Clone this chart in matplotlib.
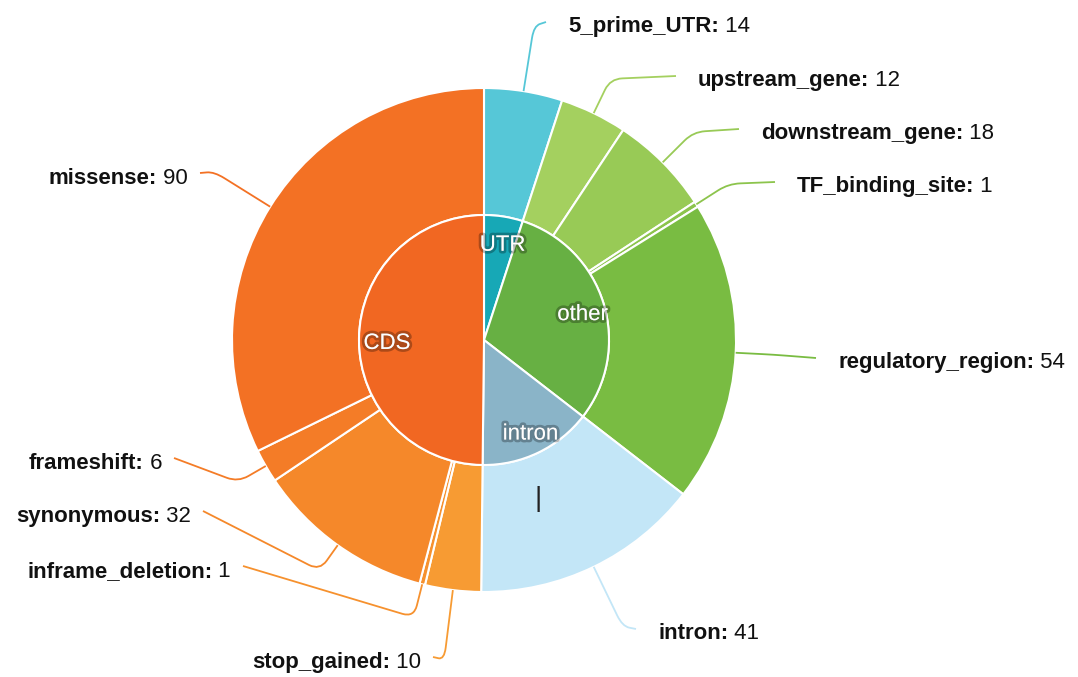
import numpy as np
import matplotlib
matplotlib.use('Agg')
import matplotlib.pyplot as plt
import matplotlib.patheffects as pe
from matplotlib.path import Path
from matplotlib.patches import PathPatch

plt.rcParams['font.family'] = ['Liberation Sans', 'DejaVu Sans']

W, H = 1078, 677
CX, CY = 484, H - 340
R_OUT, R_IN = 252, 125

# inner ring: consequence groups
inner_names = ['UTR', 'other', 'intron', 'CDS']
inner_values = [14, 85, 41, 139]
inner_colors = ['#17a8b6', '#67b043', '#8ab4c8', '#f16722']

# outer ring: consequence types
outer_names = ['5_prime_UTR', 'upstream_gene', 'downstream_gene', 'TF_binding_site',
               'regulatory_region', 'intron', 'stop_gained', 'inframe_deletion',
               'synonymous', 'frameshift', 'missense']
outer_values = [14, 12, 18, 1, 54, 41, 10, 1, 32, 6, 90]
outer_colors = ['#56c7d7', '#a4d05f', '#98ca56', '#8cc44c', '#79bc42', '#c3e6f7',
                '#f79b33', '#f6912e', '#f5882a', '#f47c27', '#f37124']

# label layout in pixels (x = text start on the right side, text end on the left side; y = baseline)
label_side = ['r', 'r', 'r', 'r', 'r', 'r', 'l', 'l', 'l', 'l', 'l']
label_x = [568, 698, 761, 797, 838, 658, 421, 231, 191, 162, 188]
label_base = [32, 86, 139, 192, 368, 639, 668, 577, 522, 469, 184]
elbow_r = [318, 290, 295, 290, 290, 318, 322, 286, 283, 284, 318]


def leader(ax, a, b, c, color, rad=12):
    a, b, c = np.array(a), np.array(b), np.array(c)
    d1 = min(rad, np.linalg.norm(a - b) / 2)
    d2 = min(rad, np.linalg.norm(c - b) / 2)
    b1 = b + (a - b) / np.linalg.norm(a - b) * d1
    b2 = b + (c - b) / np.linalg.norm(c - b) * d2
    path = Path([a, b1, b, b2, c],
                [Path.MOVETO, Path.LINETO, Path.CURVE3, Path.CURVE3, Path.LINETO])
    ax.add_patch(PathPatch(path, fill=False, edgecolor=color, linewidth=1.3))


fig = plt.figure(figsize=(W / 100, H / 100), dpi=100)
ax = fig.add_axes([0, 0, 1, 1])

outer_wedges, _ = ax.pie(outer_values, colors=outer_colors, radius=R_OUT, center=(CX, CY),
                         startangle=90, counterclock=False,
                         wedgeprops=dict(width=R_OUT - R_IN, edgecolor='white', linewidth=1.5))
inner_wedges, _ = ax.pie(inner_values, colors=inner_colors, radius=R_IN, center=(CX, CY),
                         startangle=90, counterclock=False,
                         wedgeprops=dict(edgecolor='white', linewidth=1.5))

ax.set_xlim(0, W)
ax.set_ylim(0, H)
ax.set_aspect('equal')
ax.axis('off')

# inner labels
for w, name in zip(inner_wedges, inner_names):
    ang = np.deg2rad((w.theta1 + w.theta2) / 2)
    ax.text(CX + 0.8 * R_IN * np.cos(ang) + 3, CY + 0.8 * R_IN * np.sin(ang) - 4, name,
            color='white', fontsize=16, ha='center', va='center',
            path_effects=[pe.withStroke(linewidth=4, foreground=(0, 0, 0, 0.28))])

# outer labels with leader lines
for w, name, val, col, side, lx, lb, er in zip(outer_wedges, outer_names, outer_values,
                                              outer_colors, label_side, label_x,
                                              label_base, elbow_r):
    ang = np.deg2rad((w.theta1 + w.theta2) / 2)
    a = (CX + R_OUT * np.cos(ang), CY + R_OUT * np.sin(ang))
    b = (CX + er * np.cos(ang), CY + er * np.sin(ang))
    y = H - lb
    if side == 'r':
        c = (lx - 22, y + 10)
        t = ax.text(lx, y, name + ':', fontsize=16, fontweight='bold', color='#111111',
                    ha='left', va='baseline')
        ax.annotate(' ' + str(val), xy=(1, y), xycoords=(t, 'data'), fontsize=16,
                    color='#111111', ha='left', va='baseline')
    else:
        c = (lx + 12, y + 11)
        t = ax.text(lx, y, ' ' + str(val), fontsize=16, color='#111111',
                    ha='right', va='baseline')
        ax.annotate(name + ':', xy=(0, y), xycoords=(t, 'data'), fontsize=16,
                    fontweight='bold', color='#111111', ha='right', va='baseline')
    leader(ax, a, b, c, col)

# text cursor visible in the screenshot
ax.text(538, H - 499, '|', fontsize=20, color='#222222', ha='center', va='center')

fig.savefig('out.png', dpi=100)
